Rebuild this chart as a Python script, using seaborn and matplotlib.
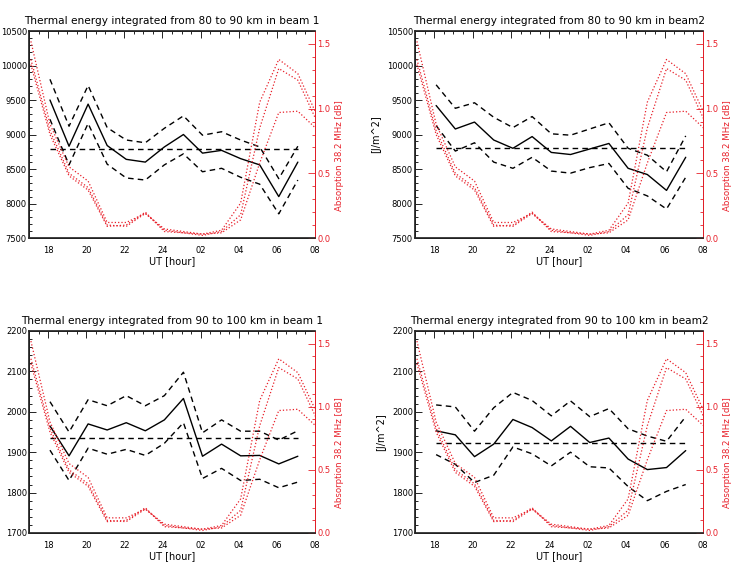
import numpy as np
import pandas as pd
import seaborn as sns
import matplotlib.pyplot as plt
from matplotlib.ticker import MultipleLocator, FixedLocator

sns.set_theme(style="white")
plt.rcParams['font.family'] = ['DejaVu Sans']
plt.rcParams['text.color'] = 'black'
plt.rcParams['axes.labelcolor'] = 'black'

# hours after 00 UT of first day (24 -> midnight, 26 -> 02 next day ...)
hours = [18.1, 19.1, 20.1, 21.1, 22.1, 23.1, 24.1, 25.1, 26.1, 27.1, 28.1, 29.1, 30.1, 31.1]
red_hours = [17.1, 18.1, 19.1, 20.1, 21.1, 22.1, 23.1, 24.1, 25.1, 26.1, 27.1, 28.1, 29.1, 30.1, 31.1, 32.1]
tick_hours = [18, 20, 22, 24, 26, 28, 30, 32]
tick_labels = ["18", "20", "22", "24", "02", "04", "06", "08"]

# absorption 38.2 MHz [dB], three riometer curves (same in every panel)
absorp_a = [1.52, 0.88, 0.55, 0.44, 0.12, 0.12, 0.19, 0.07, 0.05, 0.03, 0.06, 0.27, 1.05, 1.38, 1.27, 0.95]
absorp_b = [1.38, 0.83, 0.50, 0.39, 0.10, 0.09, 0.19, 0.06, 0.04, 0.02, 0.05, 0.18, 0.85, 1.31, 1.22, 0.90]
absorp_c = [1.34, 0.80, 0.48, 0.37, 0.09, 0.10, 0.20, 0.05, 0.04, 0.03, 0.04, 0.14, 0.58, 0.97, 0.98, 0.84]

# 80-90 km, beam 1
e1_mid = [9500, 8830, 9440, 8840, 8640, 8600, 8820, 9000, 8730, 8770, 8650, 8560, 8100, 8600]
e1_up = [9800, 9120, 9710, 9100, 8920, 8880, 9090, 9270, 8990, 9040, 8920, 8820, 8360, 8830]
e1_lo = [9220, 8560, 9160, 8570, 8370, 8340, 8560, 8720, 8460, 8510, 8380, 8280, 7850, 8340]
e1_mean = 8790

# 80-90 km, beam 2
e2_mid = [9420, 9080, 9180, 8920, 8800, 8970, 8740, 8710, 8790, 8870, 8510, 8420, 8190, 8670]
e2_up = [9720, 9380, 9460, 9250, 9100, 9260, 9010, 8990, 9080, 9170, 8800, 8700, 8460, 8980]
e2_lo = [9130, 8760, 8880, 8600, 8510, 8670, 8470, 8440, 8520, 8580, 8220, 8110, 7920, 8380]
e2_mean = 8800

# 90-100 km, beam 1
e3_mid = [1965, 1891, 1970, 1955, 1973, 1953, 1980, 2033, 1890, 1920, 1891, 1892, 1871, 1890]
e3_up = [2025, 1950, 2030, 2015, 2040, 2015, 2040, 2098, 1948, 1980, 1952, 1952, 1930, 1953]
e3_lo = [1905, 1830, 1910, 1895, 1907, 1892, 1922, 1973, 1835, 1860, 1830, 1833, 1812, 1826]
e3_mean = 1935

# 90-100 km, beam 2
e4_mid = [1953, 1943, 1889, 1920, 1981, 1961, 1928, 1964, 1924, 1935, 1883, 1857, 1862, 1904]
e4_up = [2017, 2012, 1952, 2010, 2048, 2028, 1990, 2027, 1988, 2008, 1958, 1940, 1927, 1988]
e4_lo = [1894, 1870, 1825, 1843, 1913, 1896, 1866, 1900, 1864, 1861, 1815, 1780, 1803, 1820]
e4_mean = 1922

titles = ["Thermal energy integrated from 80 to 90 km in beam 1",
          "Thermal energy integrated from 80 to 90 km in beam2",
          "Thermal energy integrated from 90 to 100 km in beam 1",
          "Thermal energy integrated from 90 to 100 km in beam2"]

RED = "#e8202a"

fig = plt.figure(figsize=(7.31, 5.72), dpi=100)
W, H = 731, 572


def box(l, t, r, b):
    return [l / W, 1 - b / H, (r - l) / W, (b - t) / H]


boxes = [box(29, 31, 315, 238), box(415, 31, 703, 238),
         box(29, 331, 315, 533), box(415, 331, 703, 533)]
panels = [(e1_mid, e1_up, e1_lo, e1_mean, (7500, 10500), 500, False),
          (e2_mid, e2_up, e2_lo, e2_mean, (7500, 10500), 500, True),
          (e3_mid, e3_up, e3_lo, e3_mean, (1700, 2200), 100, False),
          (e4_mid, e4_up, e4_lo, e4_mean, (1700, 2200), 100, True)]

for pos, title, (mid, up, lo, mean, ylim, step, ylab) in zip(boxes, titles, panels):
    ax = fig.add_axes(pos)
    ax.set_facecolor("white")
    sns.lineplot(x=hours, y=mid, ax=ax, color="black", lw=1.0)
    sns.lineplot(x=hours, y=up, ax=ax, color="black", lw=1.0, linestyle=(0, (4, 3)))
    sns.lineplot(x=hours, y=lo, ax=ax, color="black", lw=1.0, linestyle=(0, (4, 3)))
    sns.lineplot(x=[hours[0], hours[-1]], y=[mean, mean], ax=ax, color="black",
                 lw=1.0, linestyle=(0, (4, 3)))
    ax.set_xlim(17, 32)
    ax.set_ylim(*ylim)
    ax.xaxis.set_major_locator(FixedLocator(tick_hours))
    ax.set_xticklabels(tick_labels)
    ax.xaxis.set_minor_locator(MultipleLocator(0.5))
    ax.yaxis.set_major_locator(MultipleLocator(step))
    ax.yaxis.set_minor_locator(MultipleLocator(step / 5))
    ax.tick_params(axis="both", which="both", direction="in", top=True, right=False,
                   labelsize=6, colors="black", pad=1.5)
    ax.tick_params(axis="x", which="major", pad=5.5)
    ax.tick_params(which="major", length=5, width=0.6)
    ax.tick_params(which="minor", length=2.5, width=0.6)
    for s in ax.spines.values():
        s.set_color("black")
        s.set_linewidth(0.7)
    ax.set_xlabel("UT [hour]", fontsize=7, labelpad=1)
    ax.set_ylabel("[J/m^2]" if ylab else "", fontsize=7, labelpad=4)
    ax.set_title(title, fontsize=7.6, pad=5, color="black")

    ax2 = ax.twinx()
    for vals in (absorp_a, absorp_b, absorp_c):
        sns.lineplot(x=red_hours, y=vals, ax=ax2, color=RED, lw=0.9, linestyle=":")
    ax2.set_xlim(17, 32)
    ax2.set_ylim(0, 1.6)
    ax2.yaxis.set_major_locator(MultipleLocator(0.5))
    ax2.yaxis.set_minor_locator(MultipleLocator(0.1))
    ax2.yaxis.set_major_formatter(plt.FormatStrFormatter("%.1f"))
    ax2.tick_params(axis="y", which="both", direction="in", colors=RED, labelsize=6, pad=1.5)
    ax2.tick_params(which="major", length=5, width=0.6)
    ax2.tick_params(which="minor", length=2.5, width=0.6)
    ax2.spines["right"].set_color(RED)
    ax2.spines["right"].set_linewidth(0.7)
    ax2.set_ylabel("Absorption 38.2 MHz [dB]", color=RED, fontsize=6.2)
    ax2.yaxis.set_label_coords(1.071, 0.4)
    ax2.grid(False)

fig.savefig("out.png", dpi=100)
